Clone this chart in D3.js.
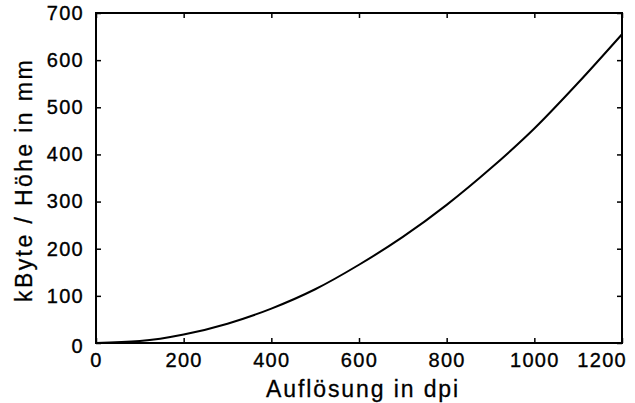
<!DOCTYPE html>
<html>
<head>
<meta charset="utf-8">
<script src="https://cdn.jsdelivr.net/npm/d3@7"></script>
<style>
  body { margin: 0; background: #fff; }
  svg { display: block; }
  text { font-family: "Liberation Sans", Arial, sans-serif; fill: #000; }
</style>
</head>
<body>
<svg id="chart" width="635" height="403"></svg>
<script>
// resolution (dpi) and kByte per mm of height
let dpi = [0, 100, 200, 300, 400, 500, 600, 700, 800, 900, 1000, 1100, 1200];
let kbyte = [0, 4, 18, 41, 73, 114, 166, 225, 293, 370, 455, 552, 655];
let xTicks = [0, 200, 400, 600, 800, 1000, 1200];
let yTicks = [0, 100, 200, 300, 400, 500, 600, 700];

let margin = {top: 13, right: 13, bottom: 60, left: 96};
let svgWidth = 635, svgHeight = 403;
let width = svgWidth - margin.left - margin.right;
let height = svgHeight - margin.top - margin.bottom;

let svg = d3.select('#chart');
let g = svg.append('g')
    .attr('transform', 'translate(' + margin.left + ',' + margin.top + ')');

let x = d3.scaleLinear().domain([0, 1200]).range([0, width]);
let y = d3.scaleLinear().domain([0, 700]).range([height, 0]);

function styleLabels(a) {
    a.selectAll('text')
        .attr('font-size', 20)
        .attr('font-family', '"Liberation Sans", Arial, sans-serif')
        .attr('letter-spacing', 1.3)
        .attr('stroke', '#000')
        .attr('stroke-width', 0.35);
    a.selectAll('.tick line').attr('stroke-width', 1.5);
}

// inward ticks on all four sides (box style)
g.append('g')
    .attr('transform', 'translate(0,' + height + ')')
    .call(d3.axisBottom(x).tickValues(xTicks).tickSize(-5).tickPadding(10).tickFormat(d3.format('d')))
    .call(a => {
        a.select('.domain').remove();
        styleLabels(a);
        // last label pushed inside like the original
        a.selectAll('.tick').filter(d => d === 1200).select('text').attr('text-anchor', 'end').attr('dx', 4.5);
    });

g.append('g')
    .call(d3.axisTop(x).tickValues(xTicks).tickSize(-5).tickFormat(''))
    .call(a => { a.select('.domain').remove(); a.selectAll('.tick line').attr('stroke-width', 1.5); });

g.append('g')
    .call(d3.axisLeft(y).tickValues(yTicks).tickSize(-5).tickPadding(12).tickFormat(d3.format('d')))
    .call(a => {
        a.select('.domain').remove();
        styleLabels(a);
        a.selectAll('.tick').filter(d => d === 0).select('text').attr('dy', '0.45em');
    });

g.append('g')
    .attr('transform', 'translate(' + width + ',0)')
    .call(d3.axisRight(y).tickValues(yTicks).tickSize(-5).tickFormat(''))
    .call(a => { a.select('.domain').remove(); a.selectAll('.tick line').attr('stroke-width', 1.5); });

// frame
g.append('rect')
    .attr('width', width)
    .attr('height', height)
    .attr('fill', 'none')
    .attr('stroke', '#000')
    .attr('stroke-width', 2);

let line = d3.line()
    .x((d, i) => x(dpi[i]))
    .y(d => y(d))
    .curve(d3.curveMonotoneX);

g.append('path')
    .datum(kbyte)
    .attr('d', line)
    .attr('fill', 'none')
    .attr('stroke', '#000')
    .attr('stroke-width', 2);

g.append('text')
    .attr('x', width / 2 + 4)
    .attr('y', height + 54)
    .attr('text-anchor', 'middle')
    .attr('font-size', 23)
    .attr('letter-spacing', 1.9)
    .attr('stroke', '#000')
    .attr('stroke-width', 0.3)
    .text('Auflösung in dpi');

g.append('text')
    .attr('transform', 'translate(' + (-64) + ',' + (height / 2 + 2) + ') rotate(-90)')
    .attr('text-anchor', 'middle')
    .attr('font-size', 23)
    .attr('letter-spacing', 2.4)
    .attr('stroke', '#000')
    .attr('stroke-width', 0.3)
    .text('kByte / Höhe in mm');
</script>
</body>
</html>
